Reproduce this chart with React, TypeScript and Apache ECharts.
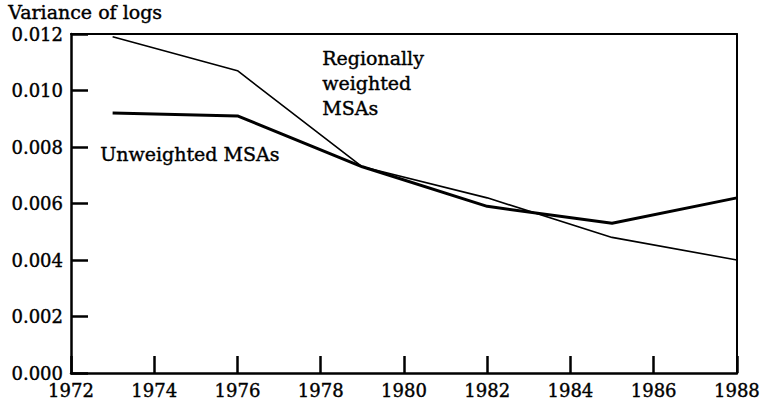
import React, { useEffect, useRef } from "react";
import * as echarts from "echarts";

const years = [1973, 1976, 1979, 1982, 1985, 1988];
const regionallyWeighted = [0.0119, 0.0107, 0.0073, 0.0062, 0.0048, 0.0040];
const unweighted = [0.0092, 0.0091, 0.0073, 0.0059, 0.0053, 0.0062];
const yAxisTitle = "Variance of logs";
const labelUnweighted = "Unweighted MSAs";
const labelRegional = "Regionally\nweighted\nMSAs";

const FONT = "DejaVu Serif";

export default function App() {
  const ref = useRef<HTMLDivElement>(null);
  useEffect(() => {
    if (!ref.current) return;
    const chart = echarts.init(ref.current, null, { renderer: "svg" });
    const axisLine = { show: true, onZero: false, lineStyle: { color: "#000", width: 2.5 } };
    const textStyle = {
      fill: "#000",
      fontFamily: FONT,
      fontSize: 19,
      stroke: "#000",
      lineWidth: 0.4,
    };
    const labelBase = {
      color: "#000",
      fontFamily: FONT,
      fontSize: 18,
      textBorderColor: "#000",
      textBorderWidth: 0.4,
    };
    chart.setOption({
      animation: false,
      backgroundColor: "#fff",
      textStyle: { fontFamily: FONT },
      grid: { left: 71, right: 24, top: 34, bottom: 31, containLabel: false },
      xAxis: [
        {
          type: "value",
          min: 1972,
          max: 1988,
          interval: 2,
          axisLine,
          axisTick: { show: true, inside: true, length: 17, lineStyle: { color: "#000", width: 2.5 } },
          axisLabel: {
            ...labelBase,
            margin: 8,
            lineHeight: 18,
            formatter: (v: number) => String(v),
          },
          splitLine: { show: false },
        },
        {
          type: "value",
          position: "top",
          min: 1972,
          max: 1988,
          axisLine: { show: true, onZero: false, lineStyle: { color: "#000", width: 2 } },
          axisTick: { show: false },
          axisLabel: { show: false },
          splitLine: { show: false },
        },
      ],
      yAxis: [
        {
          type: "value",
          min: 0,
          max: 0.012,
          interval: 0.002,
          axisLine,
          axisTick: { show: true, inside: true, length: 17, lineStyle: { color: "#000", width: 2.5 } },
          axisLabel: {
            ...labelBase,
            margin: 8,
            lineHeight: 18,
            formatter: (v: number) => v.toFixed(3),
          },
          splitLine: { show: false },
        },
        {
          type: "value",
          position: "right",
          min: 0,
          max: 0.012,
          axisLine: { show: true, onZero: false, lineStyle: { color: "#000", width: 2 } },
          axisTick: { show: false },
          axisLabel: { show: false },
          splitLine: { show: false },
        },
      ],
      series: [
        {
          name: "Regionally weighted MSAs",
          type: "line",
          data: years.map((y, i) => [y, regionallyWeighted[i]]),
          showSymbol: false,
          lineStyle: { color: "#000", width: 1.6 },
        },
        {
          name: "Unweighted MSAs",
          type: "line",
          data: years.map((y, i) => [y, unweighted[i]]),
          showSymbol: false,
          lineStyle: { color: "#000", width: 3 },
        },
      ],
      graphic: [
        {
          type: "text",
          left: 8,
          top: 2,
          style: { ...textStyle, text: yAxisTitle, lineHeight: 20 },
        },
        {
          type: "text",
          left: 100,
          top: 144,
          style: { ...textStyle, text: labelUnweighted },
        },
        {
          type: "text",
          left: 322,
          top: 45,
          style: { ...textStyle, text: labelRegional, lineHeight: 25 },
        },
      ],
    });
    return () => chart.dispose();
  }, []);
  return (
    <div
      ref={ref}
      style={{ position: "fixed", left: 0, top: 0, width: 763, height: 404 }}
    />
  );
}
